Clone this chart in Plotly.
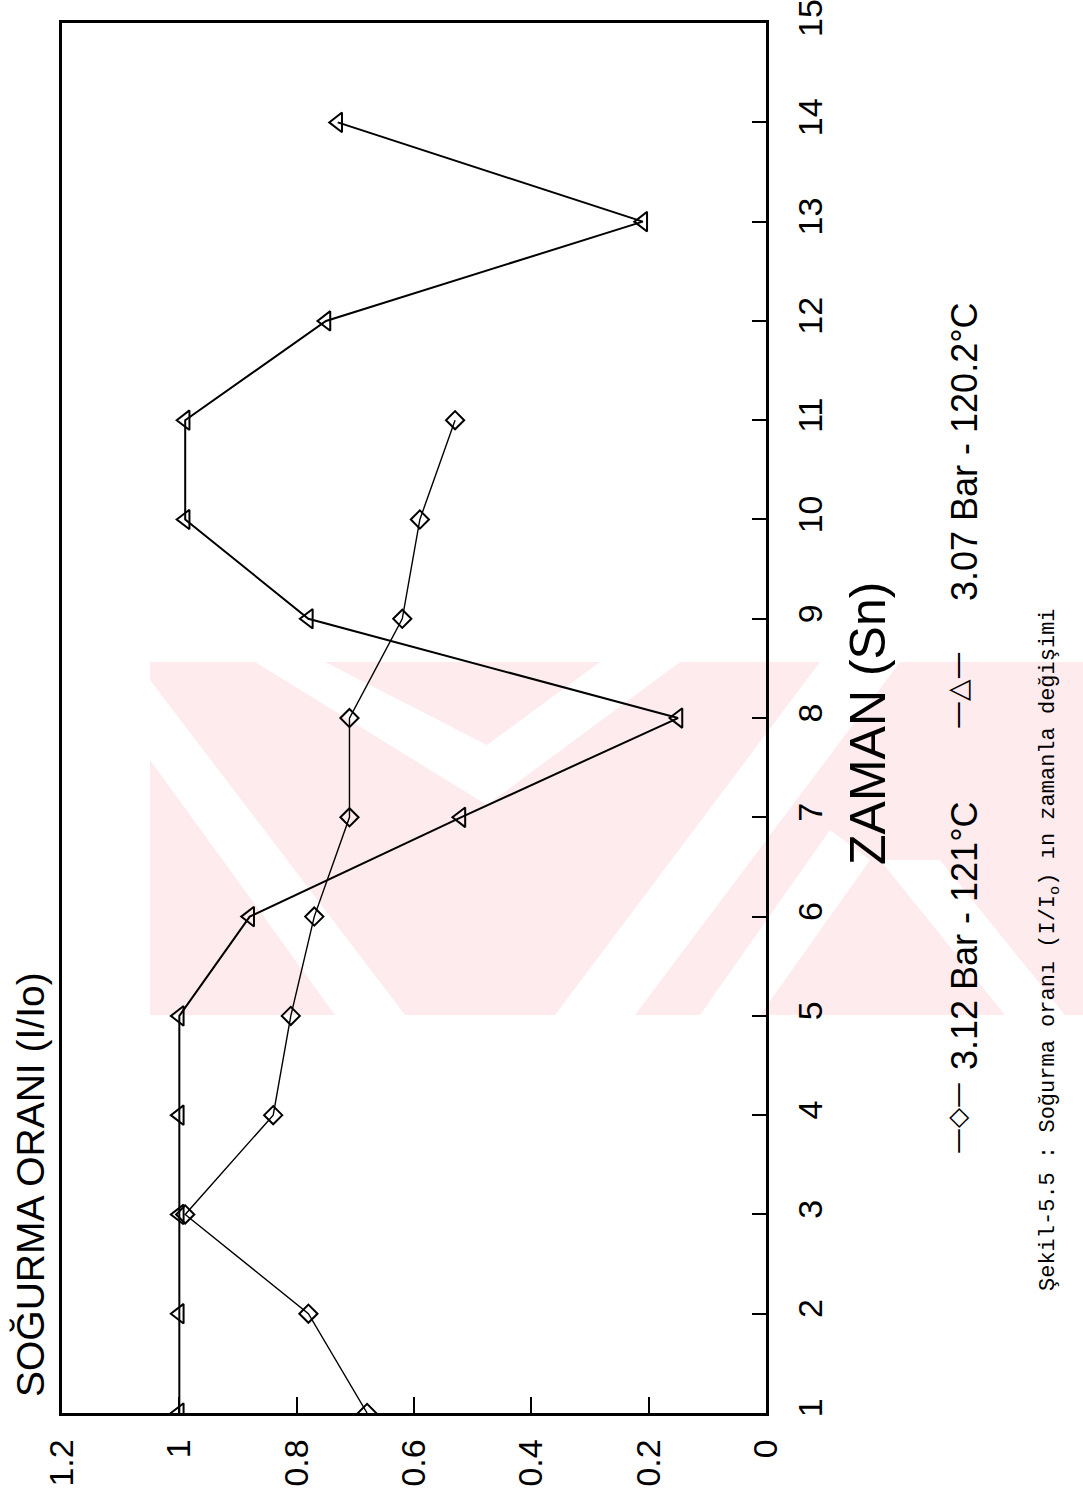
import plotly.graph_objects as go

# ---- data ----
zaman_312 = [1, 2, 3, 4, 5, 6, 7, 8, 9, 10, 11]
oran_312 = [0.68, 0.78, 0.99, 0.84, 0.81, 0.77, 0.71, 0.71, 0.62, 0.59, 0.53]

zaman_307 = [1, 2, 3, 4, 5, 6, 7, 8, 9, 10, 11, 12, 13, 14]
oran_307 = [1.0, 1.0, 1.0, 1.0, 1.0, 0.88, 0.52, 0.15, 0.78, 0.99, 0.99, 0.75, 0.21, 0.73]

value_ticks = [0, 0.2, 0.4, 0.6, 0.8, 1.0, 1.2]
value_ticktext = ["0", "0.2", "0.4", "0.6", "0.8", "1", "1.2"]
time_ticks = list(range(1, 16))

name_312 = "3.12 Bar - 121°C"
name_307 = "3.07 Bar - 120.2°C"
title_text = "SOĞURMA ORANI (I/Io)"
axis_text = "ZAMAN (Sn)"
caption_text = "Şekil-5.5 : Soğurma oranı (I/I<sub>o</sub>) ın zamanla değişimi"

W, H = 1083, 1495
L, R, T, B = 62, 766, 23, 1413


def px(x):
    return (x - L) / (R - L)


def py(y):
    return (B - y) / (B - T)


def path(points):
    return "M " + " L ".join(f"{px(x):.5f},{py(y):.5f}" for x, y in points) + " Z"


fig = go.Figure()
fig.add_trace(go.Scatter(
    x=oran_312, y=zaman_312, mode="lines+markers", name=name_312,
    line=dict(color="black", width=1.4),
    marker=dict(symbol="diamond-open", size=14, color="black", line=dict(width=2)),
))
fig.add_trace(go.Scatter(
    x=oran_307, y=zaman_307, mode="lines+markers", name=name_307,
    line=dict(color="black", width=2.0),
    marker=dict(symbol="triangle-left-open", size=17, color="black", line=dict(width=2)),
))

fig.update_layout(
    width=W, height=H,
    margin=dict(l=L, r=W - R, t=T, b=H - B, pad=0),
    paper_bgcolor="white", plot_bgcolor="rgba(0,0,0,0)",
    showlegend=False,
    font=dict(family="Liberation Sans", color="black"),
)
fig.update_xaxes(
    range=[1.2, 0], tickvals=value_ticks, ticktext=value_ticktext,
    tickangle=-90, ticks="inside", ticklen=16, tickwidth=2, tickcolor="black",
    showline=True, linecolor="black", linewidth=2.5, mirror=True,
    showgrid=False, zeroline=False, automargin=False,
    tickfont=dict(family="Liberation Sans", size=34, color="black"),
    ticklabelstandoff=10, ticklabeloverflow="allow",
)
fig.update_yaxes(
    range=[1, 15.001], tickvals=time_ticks, side="right",
    tickangle=-90, ticks="inside", ticklen=14, tickwidth=2, tickcolor="black",
    showline=True, linecolor="black", linewidth=2.5, mirror=True,
    showgrid=False, zeroline=False, automargin=False,
    tickfont=dict(family="Liberation Sans", size=34, color="black"),
    ticklabelstandoff=12, ticklabeloverflow="allow",
)

# faint pink watermark (background decoration)
pink = "#fdebee"
shapes = [
    dict(type="path", path=path([(150, 662), (1083, 662), (1083, 1015), (150, 1015)]),
         xref="paper", yref="paper", fillcolor=pink, line=dict(width=0), layer="below"),
    dict(type="path", path=path([(255, 662), (325, 662), (487, 745), (600, 662), (680, 662), (487, 805)]),
         xref="paper", yref="paper", fillcolor="white", line=dict(width=0), layer="below"),
    dict(type="path", path=path([(150, 760), (150, 680), (405, 1015), (335, 1015)]),
         xref="paper", yref="paper", fillcolor="white", line=dict(width=0), layer="below"),
    dict(type="path", path=path([(555, 1015), (635, 1015), (900, 662), (820, 662)]),
         xref="paper", yref="paper", fillcolor="white", line=dict(width=0), layer="below"),
    dict(type="path", path=path([(700, 1015), (760, 1015), (870, 860), (830, 830)]),
         xref="paper", yref="paper", fillcolor="white", line=dict(width=0), layer="below"),
    dict(type="path", path=path([(880, 860), (940, 860), (1065, 1015), (1005, 1015)]),
         xref="paper", yref="paper", fillcolor="white", line=dict(width=0), layer="below"),
]
fig.update_layout(shapes=shapes)

ann = []
ann.append(dict(text=title_text, x=px(30), y=py(1185), xref="paper", yref="paper",
                textangle=-90, showarrow=False, xanchor="center", yanchor="middle",
                font=dict(family="Liberation Sans", size=39, color="black")))
ann.append(dict(text=axis_text, x=px(868), y=py(723), xref="paper", yref="paper",
                textangle=-90, showarrow=False, xanchor="center", yanchor="middle",
                font=dict(family="Liberation Sans", size=50, color="black")))
ann.append(dict(text="—◇—", x=px(957), y=py(1118), xref="paper", yref="paper",
                textangle=-90, showarrow=False, xanchor="center", yanchor="middle",
                font=dict(family="DejaVu Sans", size=26, color="black")))
ann.append(dict(text=name_312, x=px(964), y=py(936), xref="paper", yref="paper",
                textangle=-90, showarrow=False, xanchor="center", yanchor="middle",
                font=dict(family="Liberation Sans", size=36, color="black")))
ann.append(dict(text="—△—", x=px(957), y=py(690), xref="paper", yref="paper",
                textangle=-90, showarrow=False, xanchor="center", yanchor="middle",
                font=dict(family="DejaVu Sans", size=28, color="black")))
ann.append(dict(text=name_307, x=px(964), y=py(452), xref="paper", yref="paper",
                textangle=-90, showarrow=False, xanchor="center", yanchor="middle",
                font=dict(family="Liberation Sans", size=36, color="black")))
ann.append(dict(text=caption_text, x=px(1050), y=py(950), xref="paper", yref="paper",
                textangle=-90, showarrow=False, xanchor="center", yanchor="middle",
                font=dict(family="Liberation Mono", size=22, color="black")))
fig.update_layout(annotations=ann)

fig.write_html("out.html")
